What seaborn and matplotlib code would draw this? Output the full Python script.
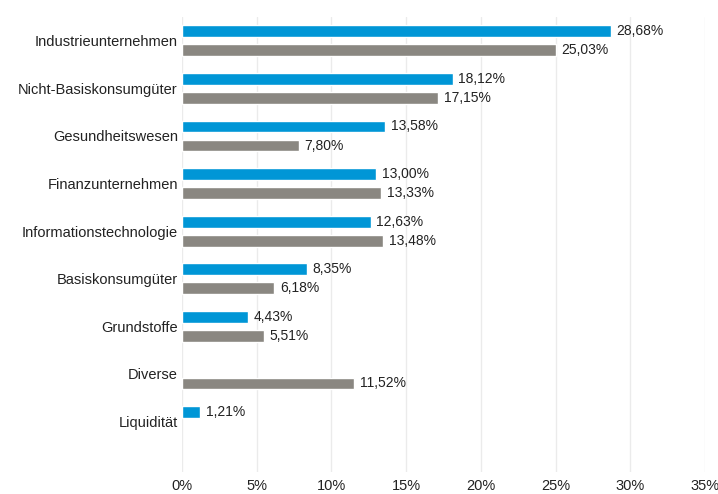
import pandas as pd
import matplotlib.pyplot as plt
import seaborn as sns

# --- DATA ---
sectors = ['Industrieunternehmen', 'Nicht-Basiskonsumgüter', 'Gesundheitswesen',
           'Finanzunternehmen', 'Informationstechnologie', 'Basiskonsumgüter',
           'Grundstoffe', 'Diverse', 'Liquidität']
fund = [28.68, 18.12, 13.58, 13.00, 12.63, 8.35, 4.43, None, 1.21]
benchmark = [25.03, 17.15, 7.80, 13.33, 13.48, 6.18, 5.51, 11.52, None]
series_names = ['Fonds', 'Vergleichsindex']

BLUE = '#0096d6'
GREY = '#8a8781'

rows = []
for s, f, b in zip(sectors, fund, benchmark):
    rows.append({'sector': s, 'series': series_names[0], 'value': f})
    rows.append({'sector': s, 'series': series_names[1], 'value': b})
df = pd.DataFrame(rows)

sns.set_theme(style='white')
plt.rcParams['font.family'] = ['Liberation Sans', 'DejaVu Sans']

fig = plt.figure(figsize=(7.18, 4.94), dpi=100)
ax = fig.add_axes([0.2535, 0.0445, 0.982 - 0.2535, 0.9656 - 0.0445])

sns.barplot(data=df, y='sector', x='value', hue='series', order=sectors,
            hue_order=series_names, palette=[BLUE, GREY], orient='h',
            width=0.8, gap=0.38, ax=ax, legend=False, saturation=1)

# value labels
for cont in ax.containers:
    labels = []
    for bar in cont:
        w = bar.get_width()
        labels.append('' if pd.isna(w) or w == 0 else f'{w:.2f}%'.replace('.', ','))
    ax.bar_label(cont, labels=labels, padding=4, fontsize=10, color='#222222')

ax.set_xlim(0, 35)
ax.set_ylim(9.06, -0.5)
ax.set_xticks(range(0, 36, 5))
ax.set_xticklabels([f'{t}%' for t in range(0, 36, 5)], fontsize=10.5, color='#222222')
ax.tick_params(axis='y', labelsize=10.5, labelcolor='#222222', length=0, pad=3)
ax.tick_params(axis='x', length=0, pad=5)
ax.set_xlabel('')
ax.set_ylabel('')
ax.grid(axis='x', color='#ebebeb', linewidth=1)
ax.set_axisbelow(True)
sns.despine(ax=ax, left=True, bottom=True)

fig.savefig('out.png', dpi=100)
